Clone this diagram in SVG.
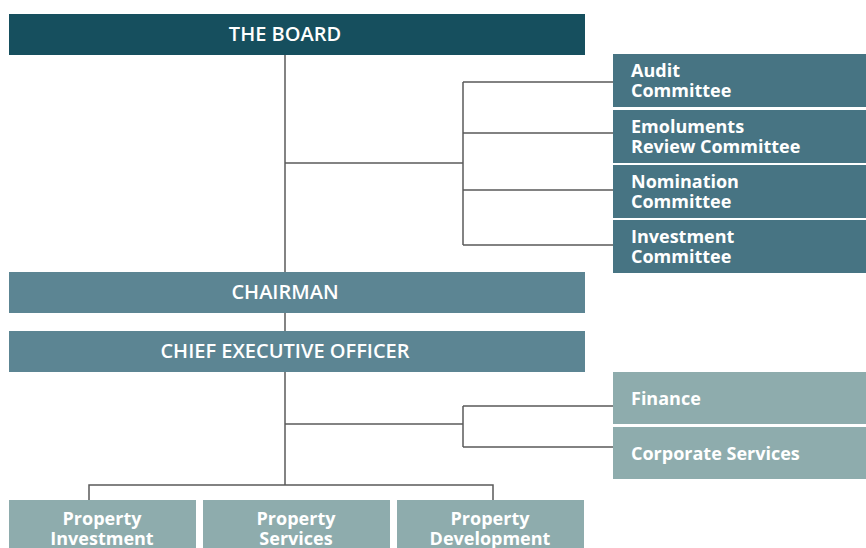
<svg xmlns="http://www.w3.org/2000/svg" width="866" height="548" viewBox="0 0 866 548">
<style>
.dark{fill:#164f5e}
.mid{fill:#5c8593}
.com{fill:#477483}
.light{fill:#8eacad}
.t{font-family:"Open Sans","Noto Sans",sans-serif;fill:#ffffff;font-weight:600}
.c{text-anchor:middle;font-size:20px}
.s{font-size:18px;font-weight:700}
.conn{stroke:#5a5a5a;stroke-width:1.5;fill:none}
</style>
<rect width="866" height="548" fill="#ffffff"/>
<g id="connectors" class="conn">
<path d="M285 55V272"/>
<path d="M285 163H463"/>
<path d="M463 82V245"/>
<path d="M463 82H613M463 133H613M463 190H613M463 245H613"/>
<path d="M285 313V331"/>
<path d="M285 372V485"/>
<path d="M285 424H463"/>
<path d="M463 406V447"/>
<path d="M463 406H613M463 447H613"/>
<path d="M89 500V485H493V500"/>
</g>
<g id="board"><rect class="dark" x="9" y="14" width="576" height="41"/><text class="t c" x="285" y="41">THE BOARD</text></g>
<g id="audit"><rect class="com" x="613" y="54" width="253" height="53"/><text class="t s" x="631" y="77">Audit</text><text class="t s" x="631" y="97">Committee</text></g>
<g id="emoluments"><rect class="com" x="613" y="110" width="253" height="53"/><text class="t s" x="631" y="133">Emoluments</text><text class="t s" x="631" y="153">Review Committee</text></g>
<g id="nomination"><rect class="com" x="613" y="165" width="253" height="53"/><text class="t s" x="631" y="188">Nomination</text><text class="t s" x="631" y="208">Committee</text></g>
<g id="investment"><rect class="com" x="613" y="220" width="253" height="53"/><text class="t s" x="631" y="243">Investment</text><text class="t s" x="631" y="263">Committee</text></g>
<g id="chairman"><rect class="mid" x="9" y="272" width="576" height="41"/><text class="t c" x="285" y="299">CHAIRMAN</text></g>
<g id="ceo"><rect class="mid" x="9" y="331" width="576" height="41"/><text class="t c" x="285" y="358">CHIEF EXECUTIVE OFFICER</text></g>
<g id="finance"><rect class="light" x="613" y="372" width="253" height="52"/><text class="t s" x="631" y="405">Finance</text></g>
<g id="corporate"><rect class="light" x="613" y="427" width="253" height="52"/><text class="t s" x="631" y="460">Corporate Services</text></g>
<g id="prop-investment"><rect class="light" x="9" y="500" width="187" height="48"/><text class="t s" x="102" y="525" text-anchor="middle">Property</text><text class="t s" x="102" y="545" text-anchor="middle">Investment</text></g>
<g id="prop-services"><rect class="light" x="203" y="500" width="187" height="48"/><text class="t s" x="296" y="525" text-anchor="middle">Property</text><text class="t s" x="296" y="545" text-anchor="middle">Services</text></g>
<g id="prop-development"><rect class="light" x="397" y="500" width="187" height="48"/><text class="t s" x="490" y="525" text-anchor="middle">Property</text><text class="t s" x="490" y="545" text-anchor="middle">Development</text></g>
</svg>
